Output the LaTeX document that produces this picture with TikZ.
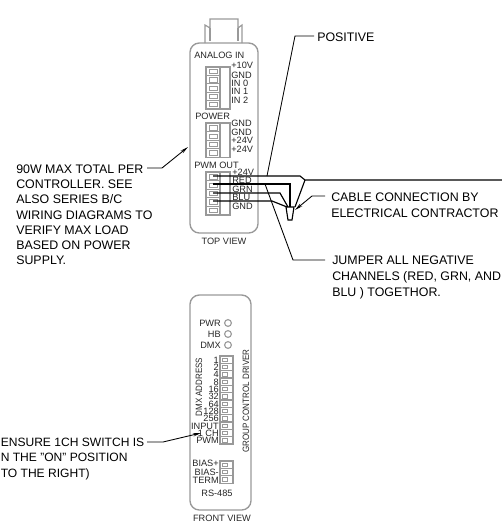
\documentclass[tikz,border=0pt]{standalone}
\usepackage{fontspec}
\setmainfont{Liberation Sans}
\usetikzlibrary{arrows.meta}
\definecolor{bodygray}{gray}{0.6}
\tikzset{
  x=0.75pt,y=-0.75pt,
  bodyline/.style={draw=bodygray,line width=1pt,rounded corners=7pt},
  blockline/.style={draw=bodygray,line width=0.85pt},
  lbl/.style={font=\fontsize{6.9pt}{7pt}\selectfont,inner sep=0pt,text=black!85},
  lblr/.style={lbl,anchor=east},
  rotlbl/.style={lbl,rotate=90},
  note/.style={font=\fontsize{9.3pt}{11.9pt}\selectfont,inner sep=0pt,anchor=north west,align=left,text=black},
  wire/.style={draw=black,line width=0.85pt},
  leader/.style={draw=black,line width=0.65pt},
  arrowleader/.style={leader,-{Stealth[length=6pt,width=2.5pt]}}
}
\newcommand{\termblock}[4]{% x top rows pitch
  \draw[blockline] (#1,#2) rectangle ({#1+24},{#2+#3*#4+1});
  \draw[blockline] ({#1+14},#2) -- ({#1+14},{#2+#3*#4+1});
  \foreach \i in {1,...,#3}{
    \draw[blockline] (#1,{#2+(\i-1)*#4+0.5}) rectangle ({#1+14},{#2+\i*#4+0.5});
    \draw[blockline,line width=0.6pt] ({#1+3},{#2+(\i-1)*#4+2.5}) rectangle ({#1+11},{#2+\i*#4-1.5});
  }
}
\newcommand{\dipblock}[3]{% top rows pitch
  \foreach \i in {1,...,#2}{
    \draw[blockline] (220,{#1+(\i-1)*#3}) rectangle (233,{#1+\i*#3});
    \draw[blockline,line width=0.5pt] (222,{#1+(\i-1)*#3+2}) rectangle (227,{#1+\i*#3-2});
  }
}
\begin{document}
\begin{tikzpicture}
\useasboundingbox (0,0) rectangle (502,522);
% top view
\draw[bodyline] (190,233) -- (190,43) -- (258,43) -- (258,233) -- cycle;
\draw[blockline] (205,43) -- (205,25) -- (210,28) -- (210,19) -- (238,19) -- (238,28) -- (242,25) -- (242,43);
\draw[blockline] (210,28) -- (210,41) (238,28) -- (238,41);
\node[lbl,anchor=west] (analog) at (194,55) {ANALOG IN};
\termblock{206}{67}{5}{8.2}
\foreach \t/\y in {+10V/65,GND/75,IN 0/83,IN 1/91,IN 2/100}
  \node[lbl,anchor=west] at (231,\y) {\t};
\node[lbl,anchor=west] (power) at (195,116) {POWER};
\termblock{206}{123}{4}{8.4}
\foreach \t/\y in {GND/123,GND/132,+24V/140,+24V/149}
  \node[lbl,anchor=west] at (231,\y) {\t};
\node[lbl,anchor=west] (pwm) at (194,165) {PWM OUT};
\termblock{206}{172}{5}{8.4}
\foreach \t/\y in {+24V/172,RED/180,GRN/189,BLU/197,GND/206}
  \node[lbl,anchor=west] at (232,\y) {\t};
\node[lbl] (topview) at (224,241) {TOP VIEW};
% front view
\draw[bodyline] (190,510) -- (190,295) -- (251,295) -- (251,510) -- cycle;
\foreach \t/\y in {PWR/323,HB/334,DMX/345}{
  \node[lblr] at (221,\y) {\t};
  \draw[blockline] (228,\y) circle (3.4);
}
\node[rotlbl] (dmxaddr) at (199,387) {\scalebox{0.87}[1]{DMX ADDRESS}};
\node[rotlbl] (gcd) at (246,401) {\scalebox{0.87}[1]{GROUP CONTROL DRIVER}};
\dipblock{356}{12}{7.33}
\foreach \t [count=\i] in {1,2,4,8,16,32,64,128,256,INPUT,1 CH,PWM}
  \node[lblr] at (219,{360+(\i-1)*7.33}) {\t};
\dipblock{461}{3}{7.4}
\foreach \t/\y in {BIAS+/463,BIAS-/472,TERM/480}
  \node[lblr] at (219,\y) {\t};
\node[lbl] (rs) at (217,493) {RS-485};
\node[lbl] (frontview) at (222,518) {FRONT VIEW};
% wires
\draw[wire] (213,176) -- (300,176) -- (305,180) -- (502,180);
\draw[wire] (305,180) -- (295,207);
\draw[wire] (213,184) -- (290,184) -- (290,207);
\draw[wire] (213,193) -- (280,193) -- (288,207);
\draw[wire] (213,201) -- (272,201) -- (287,207);
\draw[wire,fill=white] (286,207) -- (294,207) -- (292,220) -- (288,220) -- cycle;
% notes
\node[note] (pos) at (317,32.5) {POSITIVE};
\coordinate (poslead) at (314,36);
\draw[leader] (poslead) -- (295,36) -- (267,176);
\node[note] (cable) at (331,192.5) {CABLE CONNECTION BY\\ELECTRICAL CONTRACTOR};
\coordinate (cablelead) at (325,196);
\draw[arrowleader] (cablelead) -- (312,196) -- (295,210);
\node[note] (jump) at (332,255.5) {JUMPER ALL NEGATIVE\\CHANNELS (RED, GRN, AND\\BLU ) TOGETHOR.};
\coordinate (jumplead) at (325,260);
\draw[leader] (jumplead) -- (293,260) -- (265,184);
\node[note,font=\fontsize{9.3pt}{11.4pt}\selectfont] (max) at (16,164.5) {90W MAX TOTAL PER\\CONTROLLER.  SEE\\ALSO SERIES B/C\\WIRING DIAGRAMS TO\\VERIFY MAX LOAD\\BASED ON POWER\\SUPPLY.};
\coordinate (maxlead) at (147,168);
\draw[arrowleader] (maxlead) -- (162,168) -- (188,147);
\node[note,font=\fontsize{9.05pt}{11.6pt}\selectfont] (ensure) at (0.5,437.5) {ENSURE 1CH SWITCH IS\\N THE "ON" POSITION\\TO THE RIGHT)};
\coordinate (enslead) at (147,442);
\draw[arrowleader] (enslead) -- (163,442) -- (201,433);
\end{tikzpicture}
\end{document}
